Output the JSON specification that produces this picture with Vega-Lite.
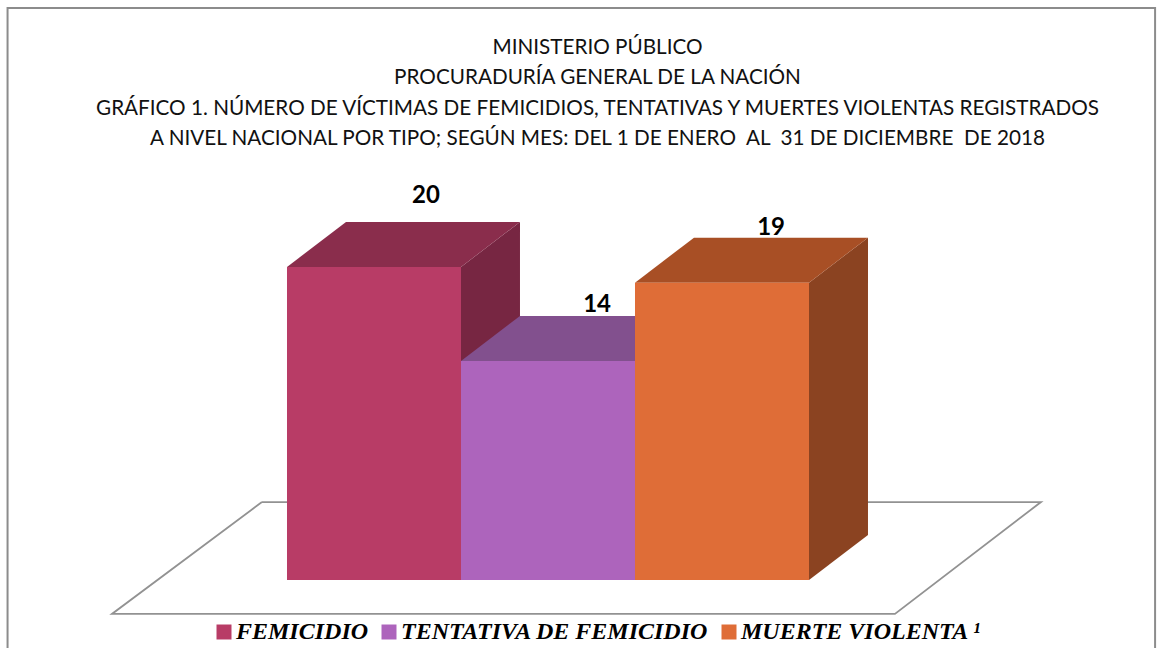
{
"$schema":"https://vega.github.io/schema/vega-lite/v6.json",
"width":1163,"height":648,"padding":0,"autosize":{"type":"none"},"background":"white",
"config":{"view":{"stroke":null}},
"title":{"text":["MINISTERIO PÚBLICO","PROCURADURÍA GENERAL DE LA NACIÓN","GRÁFICO 1. NÚMERO DE VÍCTIMAS DE FEMICIDIOS, TENTATIVAS Y MUERTES VIOLENTAS REGISTRADOS","A NIVEL NACIONAL POR TIPO; SEGÚN MES: DEL 1 DE ENERO \u00a0AL \u00a031 DE DICIEMBRE \u00a0DE 2018"],
"anchor":"middle","frame":"group","baseline":"top","offset":0,"dy":149.5,"dx":16,"font":"Lato","fontSize":20.7,"fontWeight":"normal","lineHeight":30.2,"color":"#111111"},
"datasets":{
"bars":[
{"serie":"FEMICIDIO","valor":20,"inicio":0,"fin":1,"cero":0,"etiquetaX":0.799,"etiquetaY":24.55},
{"serie":"TENTATIVA DE FEMICIDIO","valor":14,"inicio":1,"fin":2,"cero":0,"etiquetaX":1.782,"etiquetaY":17.6},
{"serie":"MUERTE VIOLENTA ¹","valor":19,"inicio":2,"fin":3,"cero":0,"etiquetaX":2.782,"etiquetaY":22.5}],
"top":[
{"serie":"FEMICIDIO","x":0,"y":20,"y2":20},{"serie":"FEMICIDIO","x":0.339,"y":20,"y2":22.875},{"serie":"FEMICIDIO","x":1,"y":20,"y2":22.875},{"serie":"FEMICIDIO","x":1.339,"y":22.875,"y2":22.875},
{"serie":"TENTATIVA DE FEMICIDIO","x":1,"y":14,"y2":14},{"serie":"TENTATIVA DE FEMICIDIO","x":1.339,"y":14,"y2":16.875},{"serie":"TENTATIVA DE FEMICIDIO","x":2,"y":14,"y2":16.875},{"serie":"TENTATIVA DE FEMICIDIO","x":2.339,"y":16.875,"y2":16.875},
{"serie":"MUERTE VIOLENTA ¹","x":2,"y":19,"y2":19},{"serie":"MUERTE VIOLENTA ¹","x":2.339,"y":19,"y2":21.875},{"serie":"MUERTE VIOLENTA ¹","x":3,"y":19,"y2":21.875},{"serie":"MUERTE VIOLENTA ¹","x":3.339,"y":21.875,"y2":21.875}],
"side":[
{"serie":"FEMICIDIO","x":1,"y":0,"y2":20},{"serie":"FEMICIDIO","x":1.339,"y":2.875,"y2":22.875},
{"serie":"MUERTE VIOLENTA ¹","x":3,"y":0,"y2":19},{"serie":"MUERTE VIOLENTA ¹","x":3.339,"y":2.875,"y2":21.875}],
"floor":[
{"o":1,"x":-0.144,"y":4.98},{"o":2,"x":4.333,"y":4.98},{"o":3,"x":3.494,"y":-2.17},{"o":4,"x":-1.006,"y":-2.17},{"o":5,"x":-0.144,"y":4.98}],
"frame":[
{"o":1,"x":-1.606,"y":-4.4},{"o":2,"x":-1.606,"y":36.55},{"o":3,"x":4.989,"y":36.55},{"o":4,"x":4.989,"y":-4.4}]
},
"resolve":{"scale":{"color":"independent"}},
"layer":[
{"data":{"name":"frame"},"mark":{"type":"line","stroke":"#8c8c8c","strokeWidth":2},
"encoding":{"x":{"field":"x","type":"quantitative","scale":{"domain":[-1.6494,5.0345]},"axis":null},"y":{"field":"y","type":"quantitative","scale":{"domain":[-4.345,37.06]},"axis":null},"order":{"field":"o"}}},
{"data":{"name":"floor"},"mark":{"type":"line","stroke":"#929292","strokeWidth":1.8},
"encoding":{"x":{"field":"x","type":"quantitative","scale":{"domain":[-1.6494,5.0345]},"axis":null},"y":{"field":"y","type":"quantitative","scale":{"domain":[-4.345,37.06]},"axis":null},"order":{"field":"o"}}},
{"data":{"name":"side"},"mark":{"type":"area","opacity":1,"line":false},
"encoding":{"x":{"field":"x","type":"quantitative","scale":{"domain":[-1.6494,5.0345]},"axis":null},"y":{"field":"y","type":"quantitative","scale":{"domain":[-4.345,37.06]},"axis":null},"y2":{"field":"y2"},
"color":{"field":"serie","type":"nominal","legend":null,"scale":{"domain":["FEMICIDIO","MUERTE VIOLENTA ¹"],"range":["#772642","#8B4321"]}}}},
{"data":{"name":"top"},"mark":{"type":"area","opacity":1},
"encoding":{"x":{"field":"x","type":"quantitative","scale":{"domain":[-1.6494,5.0345]},"axis":null},"y":{"field":"y","type":"quantitative","scale":{"domain":[-4.345,37.06]},"axis":null},"y2":{"field":"y2"},
"color":{"field":"serie","type":"nominal","legend":null,"scale":{"domain":["FEMICIDIO","TENTATIVA DE FEMICIDIO","MUERTE VIOLENTA ¹"],"range":["#8A2D4C","#82508E","#A84F25"]}}}},
{"data":{"name":"bars"},"mark":{"type":"rect"},
"encoding":{"x":{"field":"inicio","type":"quantitative","scale":{"domain":[-1.6494,5.0345]},"axis":null},"x2":{"field":"fin"},"y":{"field":"valor","type":"quantitative","scale":{"domain":[-4.345,37.06]},"axis":null},"y2":{"field":"cero"},
"color":{"field":"serie","type":"nominal","scale":{"domain":["FEMICIDIO","TENTATIVA DE FEMICIDIO","MUERTE VIOLENTA ¹"],"range":["#B83C66","#AD64BC","#DF6D37"]},
"legend":{"title":null,"orient":"none","legendX":212,"legendY":620,"direction":"horizontal","columns":3,"symbolType":"square","symbolSize":225,"symbolStrokeWidth":0,"labelFont":"Liberation Serif","labelFontStyle":"italic","labelFontWeight":"bold","labelFontSize":24,"labelColor":"#000000","labelLimit":400,"columnPadding":8,"labelOffset":0}}}},
{"data":{"name":"bars"},"mark":{"type":"text","font":"Lato","fontWeight":"bold","fontSize":24,"color":"#000000","baseline":"middle","align":"center"},
"encoding":{"x":{"field":"etiquetaX","type":"quantitative","scale":{"domain":[-1.6494,5.0345]},"axis":null},"y":{"field":"etiquetaY","type":"quantitative","scale":{"domain":[-4.345,37.06]},"axis":null},"text":{"field":"valor","type":"quantitative"}}}
]
}
